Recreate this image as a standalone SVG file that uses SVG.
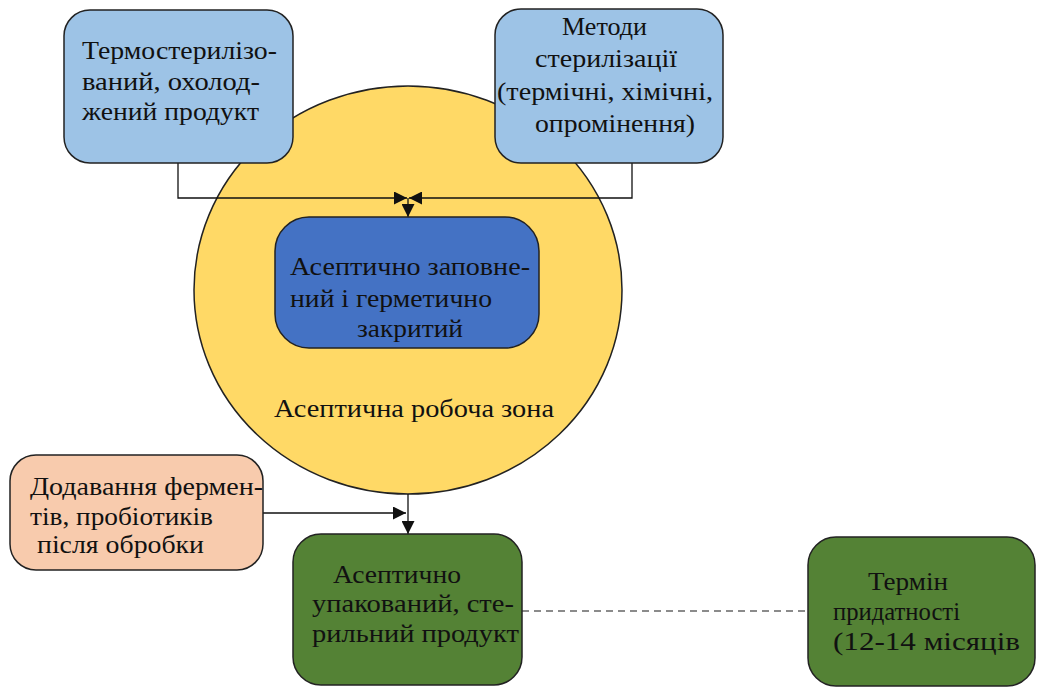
<svg xmlns="http://www.w3.org/2000/svg" width="1037" height="688" viewBox="0 0 1037 688">
<defs>
<style>
text{font-family:"Liberation Serif","Times New Roman",serif;font-size:26px;fill:#111}
.n{stroke:#222;stroke-width:1.5}
.c{stroke:#111;stroke-width:1.3;fill:none}
</style>
<marker id="ah" viewBox="0 0 12 12" refX="12" refY="6" markerWidth="13" markerHeight="13" markerUnits="userSpaceOnUse" orient="auto"><path d="M0,0L12,6L0,12z" fill="#111"/></marker>
</defs>
<rect width="1037" height="688" fill="#fff"/>
<g id="zone">
<ellipse class="n" cx="408" cy="290" rx="214" ry="204" fill="#FFD966"/>
<text x="274" y="417" textLength="280" lengthAdjust="spacingAndGlyphs">Асептична робоча зона</text>
</g>
<g id="connectors">
<polyline class="c" points="178,163 178,198 407,198" marker-end="url(#ah)"/>
<polyline class="c" points="632,163 632,198 409,198" marker-end="url(#ah)"/>
<line class="c" x1="408" y1="198" x2="408" y2="217" marker-end="url(#ah)"/>
<line class="c" x1="263" y1="513" x2="406" y2="513" marker-end="url(#ah)"/>
<line class="c" x1="408" y1="494" x2="408" y2="534" marker-end="url(#ah)"/>
<line x1="522" y1="611" x2="808" y2="611" stroke="#666" stroke-width="1.5" stroke-dasharray="7,5"/>
</g>
<g id="n1">
<rect class="n" x="64" y="10" width="229" height="153" rx="26" fill="#9DC3E6"/>
<text x="82" y="59" textLength="195" lengthAdjust="spacingAndGlyphs">Термостерилізо-</text>
<text x="82" y="90" textLength="178" lengthAdjust="spacingAndGlyphs">ваний, охолод-</text>
<text x="82" y="120" textLength="177" lengthAdjust="spacingAndGlyphs">жений продукт</text>
</g>
<g id="n2">
<rect class="n" x="495" y="9" width="228" height="154" rx="26" fill="#9DC3E6"/>
<text x="562" y="35" textLength="85" lengthAdjust="spacingAndGlyphs">Методи</text>
<text x="535" y="67" textLength="142" lengthAdjust="spacingAndGlyphs">стерилізації</text>
<text x="497" y="100" textLength="216" lengthAdjust="spacingAndGlyphs">(термічні, хімічні,</text>
<text x="535" y="132" textLength="160" lengthAdjust="spacingAndGlyphs">опромінення)</text>
</g>
<g id="n3">
<rect class="n" x="275" y="217" width="264" height="131" rx="34" fill="#4472C4"/>
<text x="290" y="275" textLength="240" lengthAdjust="spacingAndGlyphs">Асептично заповне-</text>
<text x="290" y="307" textLength="202" lengthAdjust="spacingAndGlyphs">ний і герметично</text>
<text x="357" y="337" textLength="106" lengthAdjust="spacingAndGlyphs">закритий</text>
</g>
<g id="n4">
<rect class="n" x="10" y="455" width="253" height="115" rx="26" fill="#F8CBAD"/>
<text x="30" y="495" textLength="233" lengthAdjust="spacingAndGlyphs">Додавання фермен-</text>
<text x="30" y="525" textLength="183" lengthAdjust="spacingAndGlyphs">тів, пробіотиків</text>
<text x="37" y="553" textLength="167" lengthAdjust="spacingAndGlyphs">після обробки</text>
</g>
<g id="n5">
<rect class="n" x="293" y="534" width="229" height="151" rx="28" fill="#548235"/>
<text x="333" y="583" textLength="128" lengthAdjust="spacingAndGlyphs">Асептично</text>
<text x="312" y="612" textLength="202" lengthAdjust="spacingAndGlyphs">упакований, сте-</text>
<text x="312" y="642" textLength="207" lengthAdjust="spacingAndGlyphs">рильний продукт</text>
</g>
<g id="n6">
<rect class="n" x="808" y="537" width="227" height="149" rx="28" fill="#548235"/>
<text x="868" y="590" textLength="80" lengthAdjust="spacingAndGlyphs">Термін</text>
<text x="833" y="620" textLength="127" lengthAdjust="spacingAndGlyphs">придатності</text>
<text x="833" y="650" textLength="187" lengthAdjust="spacingAndGlyphs">(12-14 місяців</text>
</g>
</svg>
